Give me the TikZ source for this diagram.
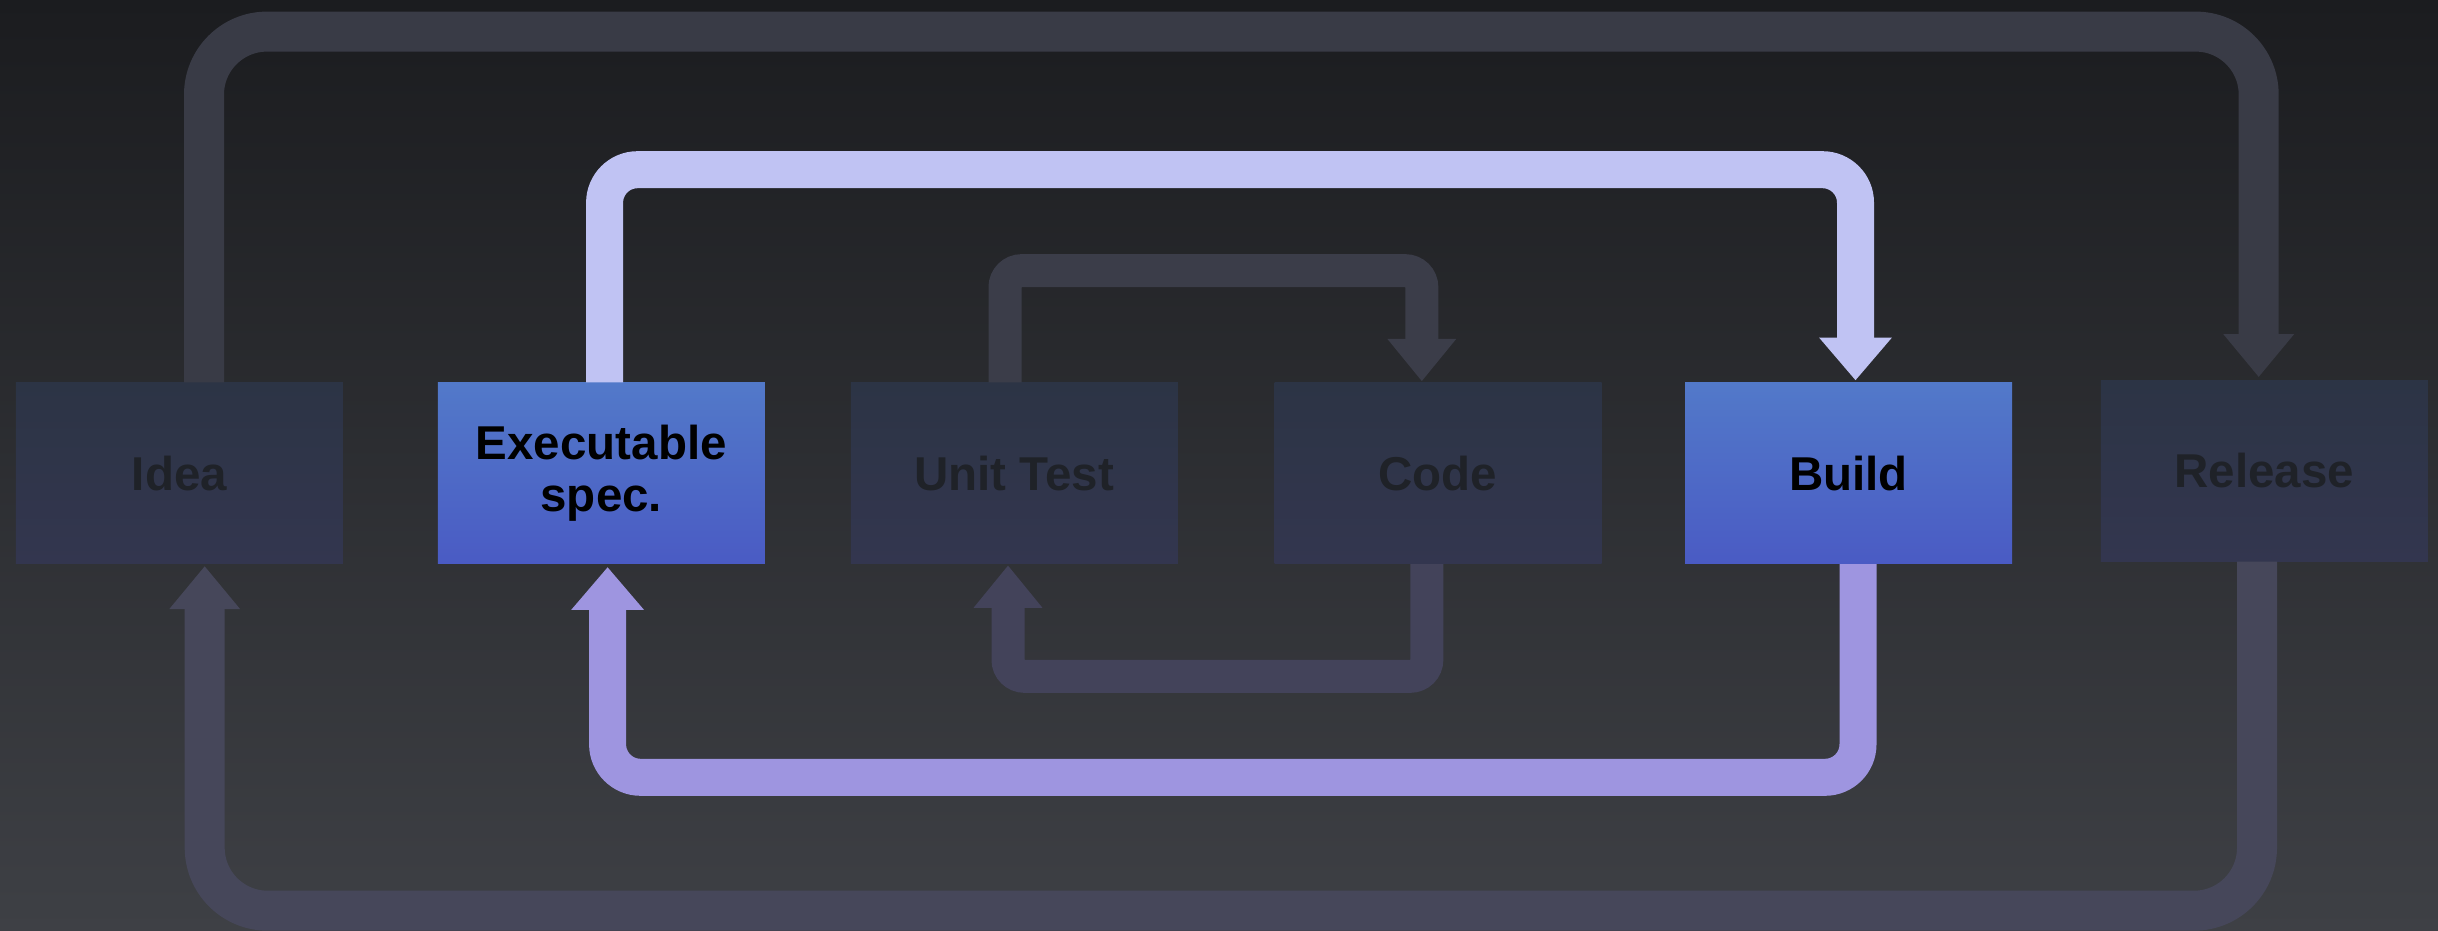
\documentclass[tikz,border=0pt]{standalone}
\usepackage{fontspec}
\setmainfont{Liberation Sans}
\usetikzlibrary{arrows.meta,calc}

\definecolor{bgtop}{HTML}{1B1C1F}
\definecolor{bgbot}{HTML}{3E4045}
\definecolor{dimtop}{HTML}{2C3445}
\definecolor{dimbot}{HTML}{33364F}
\definecolor{dimtext}{HTML}{1F2228}
\definecolor{bluetop}{HTML}{5279C9}
\definecolor{bluebot}{HTML}{4A5BC4}
\definecolor{loopup}{HTML}{393B46}
\definecolor{loopdown}{HTML}{46475A}
\definecolor{lavender}{HTML}{C0C3F3}
\definecolor{violet}{HTML}{9E95E0}
\definecolor{tddup}{HTML}{3B3D49}
\definecolor{tdddown}{HTML}{43435A}

\tikzset{
  stage/.style={minimum width=163.5pt, minimum height=90.5pt, inner sep=0pt,
    align=center, font=\fontsize{23.75}{26}\selectfont\bfseries},
  idle/.style={stage, top color=dimtop, bottom color=dimbot, text=dimtext},
  active/.style={stage, top color=bluetop, bottom color=bluebot, text=black},
  wideband/.style={line width=20pt, rounded corners=31.5pt, line cap=butt,
    -{Triangle[length=21.5pt,width=34pt]}},
  midband/.style={line width=18.5pt, rounded corners=16.5pt, line cap=butt,
    -{Triangle[length=21.4pt,width=35pt]}},
  thinband/.style={line width=16.5pt, rounded corners=8.25pt, line cap=butt,
    -{Triangle[length=21.2pt,width=33pt]}},
}

\begin{document}
\begin{tikzpicture}[x=0.5pt,y=-0.5pt]
\useasboundingbox (0,0) rectangle (2438,931);
\shade[top color=bgtop, bottom color=bgbot] (0,0) rectangle (2438,931);

% stages
\node[idle]   (idea)    at (179.4,473.2)  {Idea};
\node[active] (spec)    at (601.3,473.2)  {Executable\\spec.};
\node[idle]   (unit)    at (1014.3,473.2) {Unit Test};
\node[idle]   (code)    at (1438,473.2)   {Code};
\node[active] (build)   at (1848.5,473.2) {Build};
\node[idle]   (release) at (2264.4,470.8) {Release};

% levels of the horizontal runs
\coordinate (ytop)    at (0,31.6);
\coordinate (ybottom) at (0,910.7);
\coordinate (yspec)   at (0,169.7);
\coordinate (ybuild)  at (0,777.3);
\coordinate (yunit)   at (0,270.7);
\coordinate (ycode)   at (0,676.3);

% outer release loop
\coordinate (a1) at ($(idea.north)+(24.6,0)$);
\coordinate (a2) at ($(release.north)+(-5.7,-2.8)$);
\draw[wideband, draw=loopup] (a1) -- (a1 |- ytop) -- (a2 |- ytop) -- (a2);

\coordinate (b1) at ($(release.south)+(-7.4,0)$);
\coordinate (b2) at ($(idea.south)+(25.3,2)$);
\draw[wideband, draw=loopdown] (b1) -- (b1 |- ybottom) -- (b2 |- ybottom) -- (b2);

% acceptance loop
\coordinate (c1) at ($(spec.north)+(3.3,0)$);
\coordinate (c2) at ($(build.north)+(7,-1.9)$);
\draw[midband, draw=lavender] (c1) -- (c1 |- yspec) -- (c2 |- yspec) -- (c2);

\coordinate (d1) at ($(build.south)+(9.5,0)$);
\coordinate (d2) at ($(spec.south)+(6.3,3)$);
\draw[midband, draw=violet] (d1) -- (d1 |- ybuild) -- (d2 |- ybuild) -- (d2);

% unit test loop
\coordinate (e1) at ($(unit.north)+(-9.3,0)$);
\coordinate (e2) at ($(code.north)+(-16.2,-1)$);
\draw[thinband, draw=tddup] (e1) -- (e1 |- yunit) -- (e2 |- yunit) -- (e2);

\coordinate (f1) at ($(code.south)+(-11.2,0)$);
\coordinate (f2) at ($(unit.south)+(-6.3,1.3)$);
\draw[thinband, draw=tdddown] (f1) -- (f1 |- ycode) -- (f2 |- ycode) -- (f2);
\end{tikzpicture}
\end{document}
